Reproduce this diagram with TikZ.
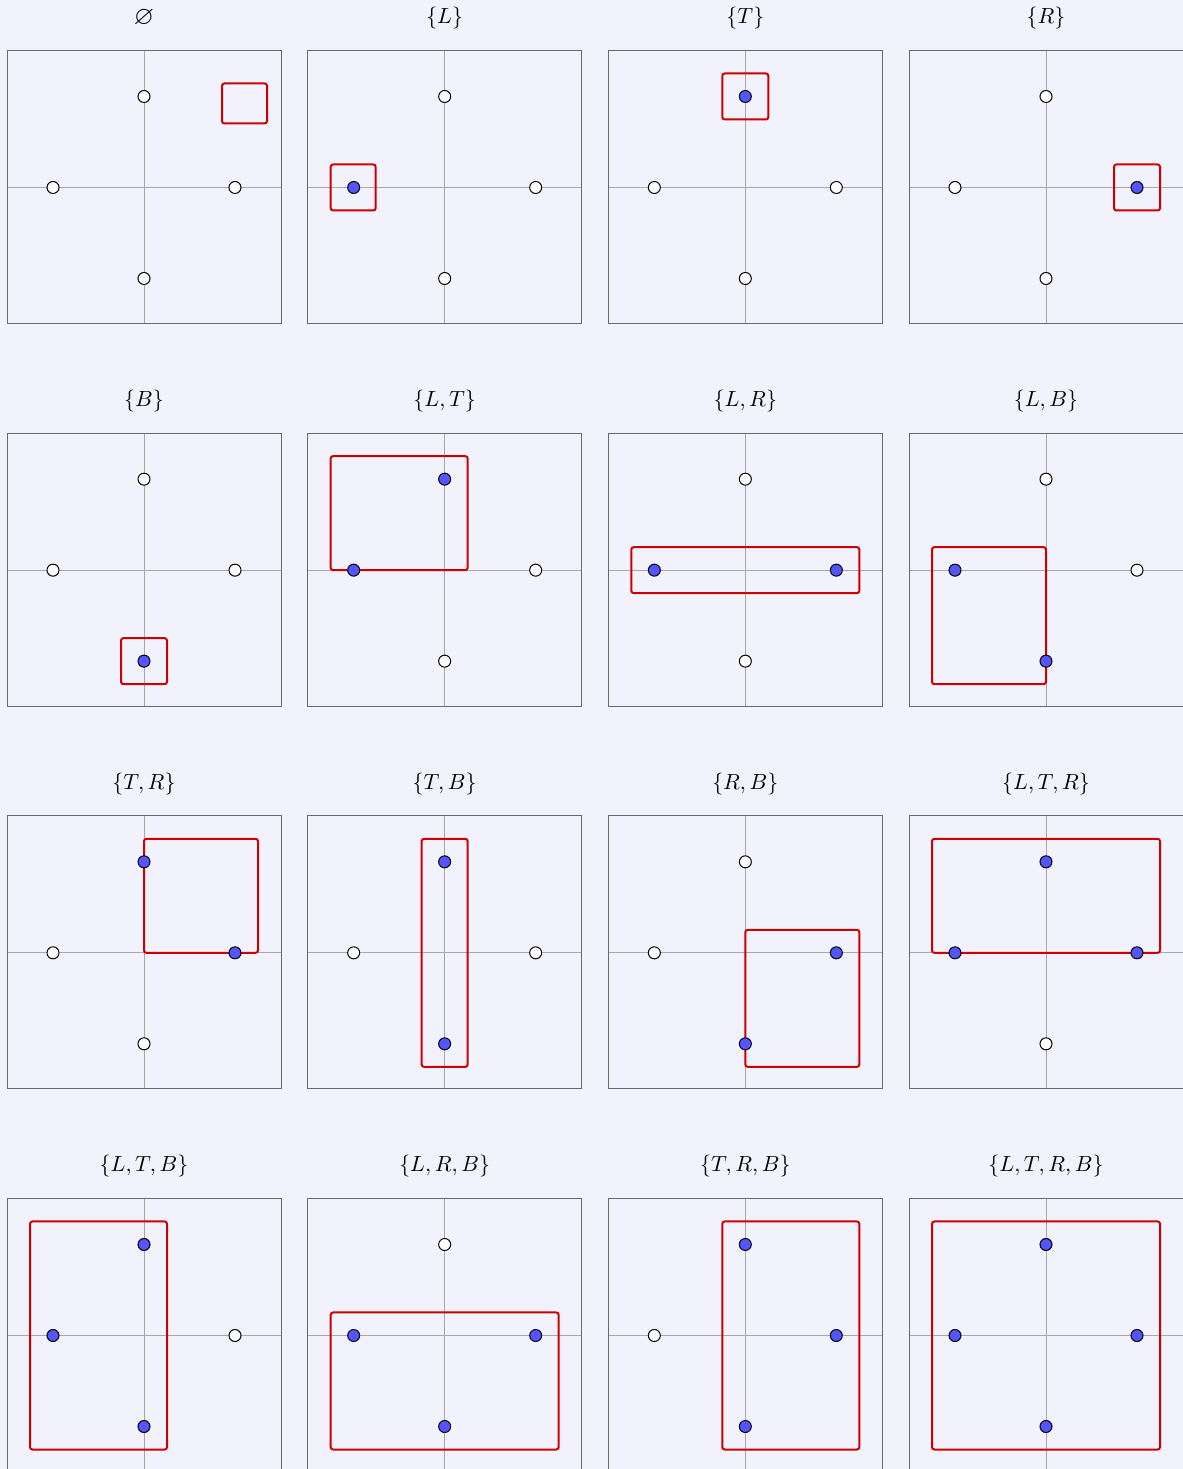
\documentclass[tikz,border=0pt]{standalone}
\usepackage{amssymb}
\definecolor{bgc}{RGB}{242,242,252}
\definecolor{framec}{RGB}{105,105,105}
\definecolor{axisc}{RGB}{168,168,168}
\definecolor{dotblue}{RGB}{85,85,255}
\definecolor{boxred}{RGB}{204,0,0}
\tikzset{
  frame/.style={draw=framec,line width=0.5pt},
  axisline/.style={draw=axisc,line width=0.5pt},
  dotbase/.style={circle,draw=black,line width=0.5pt,minimum size=6pt,inner sep=0pt},
  off/.style={dotbase,fill=white},
  on/.style={dotbase,fill=dotblue},
  rbox/.style={draw=boxred,line width=1pt,rounded corners=1.2pt},
  ttl/.style={inner sep=0pt,font=\fontsize{10.5}{12}\selectfont}
}
\newcommand\panel[9]{%
  \begin{scope}[shift={({144+300.667*#2},{1281.5-382.667*#3})}]
    \draw[axisline] (-137,0) -- (137,0);
    \draw[axisline] (0,-136) -- (0,137);
    \draw[frame] (-137,-136) rectangle (137,137);
    \node[ttl] (#1t) at (0,169) {#4};
    \draw[rbox] #9;
    \node[#5] (#1L) at (-91,0) {};
    \node[#6] (#1T) at (0,91) {};
    \node[#7] (#1R) at (91,0) {};
    \node[#8] (#1B) at (0,-91) {};
  \end{scope}}
\begin{document}
\begin{tikzpicture}[x=0.5pt,y=0.5pt]
\useasboundingbox (0,0) rectangle (1183,1469);
\clip (0,0) rectangle (1183,1469);
\fill[bgc] (0,0) rectangle (1183,1469);
% row 0
\panel{pa}{0}{0}{\fontsize{13}{14}\selectfont$\varnothing$}{off}{off}{off}{off}{(78,64) rectangle (123,104)}
\panel{pb}{1}{0}{$\{L\}$}{on}{off}{off}{off}{(-114,-23) rectangle (-69,23)}
\panel{pc}{2}{0}{$\{T\}$}{off}{on}{off}{off}{(-23,68) rectangle (23,114)}
\panel{pd}{3}{0}{$\{R\}$}{off}{off}{on}{off}{(68,-23) rectangle (114,23)}
% row 1
\panel{pe}{0}{1}{$\{B\}$}{off}{off}{off}{on}{(-23,-114) rectangle (23,-68)}
\panel{pf}{1}{1}{$\{L,T\}$}{on}{on}{off}{off}{(-114,0) rectangle (23,114)}
\panel{pg}{2}{1}{$\{L,R\}$}{on}{off}{on}{off}{(-114,-23) rectangle (114,23)}
\panel{ph}{3}{1}{$\{L,B\}$}{on}{off}{off}{on}{(-114,-114) rectangle (0,23)}
% row 2
\panel{pi}{0}{2}{$\{T,R\}$}{off}{on}{on}{off}{(0,0) rectangle (114,114)}
\panel{pj}{1}{2}{$\{T,B\}$}{off}{on}{off}{on}{(-23,-114) rectangle (23,114)}
\panel{pk}{2}{2}{$\{R,B\}$}{off}{off}{on}{on}{(0,-114) rectangle (114,23)}
\panel{pl}{3}{2}{$\{L,T,R\}$}{on}{on}{on}{off}{(-114,0) rectangle (114,114)}
% row 3
\panel{pm}{0}{3}{$\{L,T,B\}$}{on}{on}{off}{on}{(-114,-114) rectangle (23,114)}
\panel{pn}{1}{3}{$\{L,R,B\}$}{on}{off}{on}{on}{(-114,-114) rectangle (114,23)}
\panel{po}{2}{3}{$\{T,R,B\}$}{off}{on}{on}{on}{(-23,-114) rectangle (114,114)}
\panel{pp}{3}{3}{$\{L,T,R,B\}$}{on}{on}{on}{on}{(-114,-114) rectangle (114,114)}
\end{tikzpicture}
\end{document}
